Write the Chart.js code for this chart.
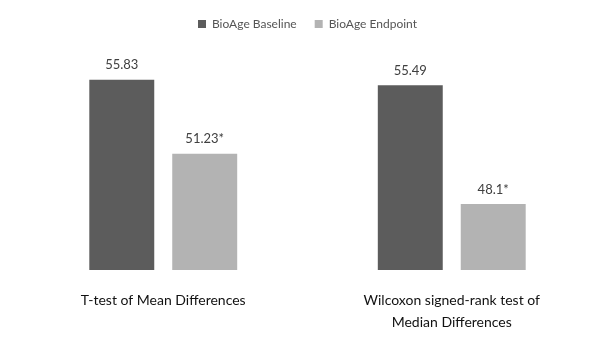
<!DOCTYPE html>
<html>
<head>
<meta charset="utf-8">
<script src="https://cdn.jsdelivr.net/npm/chart.js@4"></script>
<style>
  html, body { margin: 0; padding: 0; background: #fff; }
  #wrap { width: 600px; height: 338px; }
</style>
</head>
<body>
<div id="wrap"><canvas id="bioChart"></canvas></div>
<script>
// --- Data ---
const testNames = [
  "T-test of Mean Differences",
  ["Wilcoxon signed-rank test of", "Median Differences"]
];
const baselineValues = [55.83, 55.49];
const endpointValues = [51.23, 48.1];
const endpointMarks = ["*", "*"];
const seriesNames = ["BioAge Baseline", "BioAge Endpoint"];

// --- Value labels above each bar ---
const valueLabels = {
  id: "valueLabels",
  afterDatasetsDraw(chart) {
    const ctx = chart.ctx;
    ctx.save();
    ctx.font = "13px Lato";
    ctx.fillStyle = "#404040";
    ctx.textAlign = "center";
    ctx.textBaseline = "bottom";
    chart.data.datasets.forEach((ds, i) => {
      chart.getDatasetMeta(i).data.forEach((bar, j) => {
        let text = String(ds.data[j]);
        if (i === 1) text += endpointMarks[j];
        ctx.fillText(text, bar.x, bar.y - 8);
      });
    });
    ctx.restore();
  }
};

new Chart(document.getElementById("bioChart").getContext("2d"), {
  type: "bar",
  data: {
    labels: testNames,
    datasets: [
      { label: seriesNames[0], data: baselineValues, backgroundColor: "#5c5c5c" },
      { label: seriesNames[1], data: endpointValues, backgroundColor: "#b3b3b3" }
    ]
  },
  options: {
    responsive: true,
    maintainAspectRatio: false,
    animation: false,
    datasets: { bar: { categoryPercentage: 0.575, barPercentage: 0.783 } },
    layout: { padding: { left: 19, right: 4, top: 0, bottom: 2 } },
    plugins: {
      tooltip: { enabled: false },
      legend: {
        position: "top",
        labels: {
          boxWidth: 8,
          boxHeight: 8,
          padding: 18,
          color: "#555555",
          font: { family: "Lato", size: 12 }
        }
      }
    },
    scales: {
      x: {
        grid: { display: false, drawTicks: false },
        border: { display: false },
        afterFit(scale) { scale.height = 66; },
        ticks: {
          color: "#111111",
          padding: 19,
          maxRotation: 0,
          font: { family: "Lato", size: 14, lineHeight: 1.6 }
        }
      },
      y: { display: false, min: 44, max: 58.3 }
    }
  },
  plugins: [valueLabels]
});
</script>
</body>
</html>
